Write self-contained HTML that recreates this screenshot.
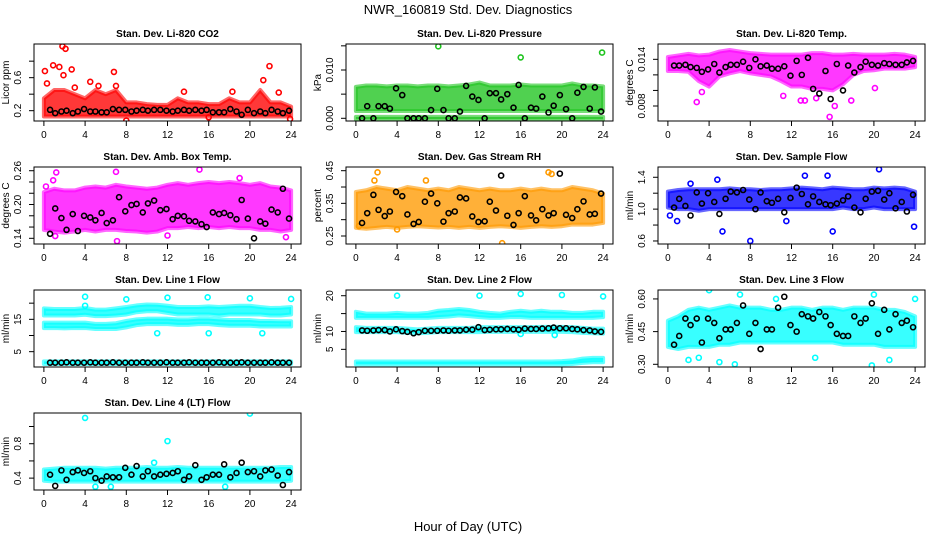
<!DOCTYPE html>
<html><head><meta charset="utf-8"><style>
body{margin:0;background:#fff;}
svg{display:block;font-family:"Liberation Sans",sans-serif;}
</style></head><body>
<svg id="chart" width="936" height="540" viewBox="0 0 936 540" xmlns="http://www.w3.org/2000/svg">
<text x="468" y="14" text-anchor="middle" font-size="13">NWR_160819  Std. Dev. Diagnostics</text>
<text x="468" y="531" text-anchor="middle" font-size="13">Hour of Day (UTC)</text>
</svg>
<script>
const xTicks = [0,4,8,12,16,20,24];
const bandHours = [0,1,2,3,4,5,6,7,8,9,10,11,12,13,14,15,16,17,18,19,20,21,22,23,24];
const blackHours = [0.6,1.1,1.7,2.2,2.8,3.3,3.9,4.5,5.0,5.6,6.1,6.7,7.3,7.9,8.5,9.0,9.6,10.1,10.7,11.3,11.9,12.5,13.0,13.6,14.1,14.7,15.3,15.8,16.4,17.0,17.5,18.1,18.7,19.2,19.8,20.4,21.0,21.5,22.1,22.7,23.2,23.8];

// Panel 1 CO2
const co2Lo = [0.13,0.13,0.13,0.13,0.13,0.13,0.13,0.13,0.13,0.13,0.13,0.13,0.13,0.13,0.13,0.13,0.13,0.13,0.13,0.13,0.13,0.13,0.13,0.13,0.13];
const co2Hi = [0.35,0.45,0.45,0.40,0.35,0.45,0.40,0.45,0.30,0.30,0.28,0.27,0.27,0.35,0.30,0.30,0.28,0.28,0.35,0.30,0.30,0.45,0.30,0.30,0.25];
const co2OutX = [0.1,0.3,0.9,1.5,1.8,2.1,1.9,2.7,3.0,4.5,5.3,6.8,7.0,8.0,13.6,16.0,18.3,21.3,21.9,22.8,23.9];
const co2OutY = [0.68,0.53,0.75,0.73,0.98,0.95,0.63,0.70,0.48,0.55,0.50,0.67,0.50,0.08,0.43,0.12,0.43,0.57,0.74,0.42,0.10];
const co2Black = [0.21,0.17,0.19,0.2,0.17,0.19,0.22,0.19,0.19,0.18,0.18,0.22,0.21,0.21,0.19,0.2,0.21,0.2,0.21,0.21,0.2,0.19,0.2,0.21,0.2,0.21,0.2,0.21,0.18,0.18,0.18,0.22,0.19,0.15,0.21,0.17,0.19,0.17,0.21,0.19,0.17,0.2];
// Panel 2 Pressure
const prLo = [0.0015,0.0015,0.0015,0.0015,0.0015,0.0015,0.0015,0.0015,0.0015,0.0015,0.0015,0.0015,0.0015,0.0015,0.0015,0.0015,0.0015,0.0015,0.0015,0.0015,0.0015,0.0015,0.0015,0.0015,0.0015];
const prHi = [0.0065,0.0068,0.0068,0.0066,0.0068,0.0068,0.0066,0.0068,0.0068,0.0066,0.0068,0.0070,0.0074,0.0068,0.0068,0.0068,0.0070,0.0068,0.0068,0.0068,0.0068,0.0072,0.0068,0.0068,0.0066];
const prZeroLo = [-0.0002,-0.0002,-0.0002,-0.0002,-0.0002,-0.0002,-0.0002,-0.0002,-0.0002,-0.0002,-0.0002,-0.0002,-0.0002,-0.0002,-0.0002,-0.0002,-0.0002,-0.0002,-0.0002,-0.0002,-0.0002,-0.0002,-0.0002,-0.0002,-0.0002];
const prZeroHi = [0.0003,0.0003,0.0003,0.0003,0.0003,0.0003,0.0003,0.0003,0.0003,0.0003,0.0003,0.0003,0.0003,0.0003,0.0003,0.0003,0.0003,0.0003,0.0003,0.0003,0.0003,0.0003,0.0003,0.0003,0.0003];
const prOutX = [8.0,16.0,23.9];
const prOutY = [0.0149,0.0126,0.0136];
const prBlack = [0,0.0025,0,0.0025,0.0025,0.0020,0.0062,0.0048,0,0,0,0,0.0017,0.0061,0.0017,0,0,0.0014,0.0067,0.0045,0.0038,0,0.0052,0.0052,0.0039,0.0050,0.0022,0.0069,0,0.0022,0.0020,0.0045,0.0012,0.0026,0.0048,0.0019,0,0.0053,0.0065,0.0020,0.0064,0.0014];
// Panel 3 Temp
const tmLo = [0.0125,0.0125,0.0124,0.0112,0.0105,0.0118,0.0122,0.0125,0.0122,0.0120,0.0118,0.0112,0.0105,0.0105,0.0102,0.0102,0.0100,0.0108,0.0120,0.0125,0.0126,0.0128,0.0128,0.0128,0.0130];
const tmHi = [0.0143,0.0145,0.0147,0.0145,0.0146,0.0150,0.0152,0.0150,0.0148,0.0147,0.0146,0.0146,0.0146,0.0146,0.0148,0.0148,0.0146,0.0146,0.0147,0.0146,0.0146,0.0146,0.0147,0.0146,0.0143];
const tmOutX = [2.8,15.7,11.2,12.9,13.3,16.2,17.8,20.1,3.3,14.4];
const tmOutY = [0.0085,0.0066,0.0093,0.0087,0.0087,0.0080,0.0087,0.0103,0.0098,0.0090];
const tmBlack = [0.0132,0.0132,0.0133,0.0130,0.0129,0.0124,0.0127,0.0134,0.0123,0.0130,0.0133,0.0133,0.0137,0.0129,0.0140,0.0131,0.0132,0.0128,0.0128,0.0131,0.0119,0.0138,0.0120,0.0142,0.0102,0.0096,0.0125,0.0089,0.0134,0.0100,0.0132,0.0123,0.0130,0.0137,0.0133,0.0132,0.0135,0.0134,0.0133,0.0133,0.0136,0.0138];
// Panel 4 Amb box
const abLo = [0.155,0.152,0.150,0.152,0.155,0.152,0.155,0.155,0.153,0.152,0.150,0.152,0.158,0.158,0.160,0.158,0.160,0.158,0.160,0.158,0.158,0.155,0.155,0.152,0.155];
const abHi = [0.222,0.228,0.225,0.225,0.230,0.232,0.230,0.235,0.232,0.230,0.228,0.230,0.235,0.238,0.235,0.238,0.240,0.238,0.240,0.238,0.235,0.238,0.232,0.230,0.225];
const abOutX = [1.2,0.9,7.0,15.1,19.0,7.1,23.5,1.1,0.2,12.0];
const abOutY = [0.257,0.243,0.258,0.262,0.247,0.135,0.142,0.144,0.232,0.145];
const abBlack = [0.148,0.193,0.176,0.155,0.183,0.153,0.180,0.177,0.172,0.185,0.167,0.172,0.213,0.188,0.199,0.201,0.186,0.202,0.207,0.190,0.192,0.174,0.180,0.179,0.171,0.170,0.165,0.160,0.186,0.183,0.185,0.181,0.174,0.208,0.175,0.140,0.170,0.166,0.191,0.186,0.228,0.175];
// Panel 5 RH
const rhLo = [0.275,0.272,0.275,0.278,0.275,0.278,0.280,0.278,0.276,0.278,0.275,0.278,0.275,0.278,0.280,0.278,0.275,0.278,0.280,0.278,0.280,0.285,0.285,0.285,0.290];
const rhHi = [0.385,0.39,0.40,0.395,0.39,0.40,0.395,0.39,0.395,0.39,0.40,0.395,0.39,0.395,0.39,0.39,0.395,0.39,0.395,0.39,0.39,0.40,0.395,0.39,0.38];
const rhOutX = [2.1,14.2,18.7,19.0,0.3,4.0,1.8,6.8];
const rhOutY = [0.445,0.228,0.445,0.44,0.28,0.27,0.42,0.42];
const rhBlack = [0.29,0.32,0.376,0.33,0.311,0.325,0.385,0.372,0.316,0.287,0.293,0.355,0.38,0.35,0.294,0.32,0.325,0.368,0.365,0.31,0.293,0.295,0.355,0.328,0.435,0.312,0.284,0.32,0.372,0.313,0.298,0.332,0.313,0.32,0.441,0.315,0.305,0.332,0.356,0.316,0.318,0.38];
// Panel 6 Sample flow
const sfLo = [1.02,1.0,1.0,0.98,1.0,1.0,1.0,1.0,1.0,1.0,1.0,1.0,1.0,1.0,1.0,1.0,1.0,1.02,1.0,1.0,1.02,1.0,1.0,1.0,1.0];
const sfHi = [1.22,1.24,1.25,1.25,1.25,1.25,1.26,1.25,1.25,1.24,1.25,1.25,1.26,1.27,1.26,1.25,1.27,1.26,1.25,1.25,1.27,1.26,1.27,1.26,1.22];
const sfOutX = [20.5,8.0,16.0,23.9,5.3,0.2,0.9,11.5,13.3,15.5,4.8,2.2];
const sfOutY = [1.50,0.60,0.72,0.78,0.72,0.92,0.85,0.85,1.42,1.42,1.37,1.32];
const sfBlack = [1.02,1.13,1.04,0.92,1.21,1.07,1.20,1.09,0.94,1.13,1.22,1.21,1.24,1.12,1.00,1.21,1.10,1.08,1.13,0.96,1.14,1.27,1.19,1.06,1.16,1.09,1.06,1.05,1.07,1.11,1.16,1.02,0.96,1.13,1.22,1.23,1.12,1.20,1.01,1.09,0.97,1.18];
// Panel 7 Line 1
const l1aLo = [16.2,16.2,16.2,16.2,16.4,16.0,16.0,16.2,16.5,17.2,17.5,17.5,17.0,16.5,16.5,16.5,16.5,16.2,16.5,16.5,16.5,16.5,16.2,16.2,16.5];
const l1aHi = [18.4,18.2,18.2,18.2,18.5,18.0,18.0,18.4,18.8,19.3,19.6,19.5,19.2,18.8,18.8,18.8,19.0,18.8,19.0,19.2,19.2,18.8,18.5,18.6,18.8];
const l1bLo = [12.3,12.3,12.2,12.3,12.3,12.0,12.0,12.0,12.5,13.2,13.5,13.5,13.5,13.3,13.3,13.5,13.5,13.2,13.0,13.0,13.0,12.8,12.8,12.8,12.8];
const l1bHi = [14.0,14.0,14.0,14.0,14.0,13.6,13.6,13.8,14.5,15.0,15.2,15.2,15.2,15.0,15.0,15.2,15.2,15.0,14.8,14.8,14.8,14.5,14.5,14.4,14.4];
const l1cLo = [1.2,1.2,1.2,1.2,1.2,1.2,1.2,1.2,1.2,1.2,1.2,1.2,1.2,1.2,1.2,1.2,1.2,1.2,1.2,1.2,1.2,1.2,1.2,1.2,1.2];
const l1cHi = [2.0,2.0,2.0,2.0,2.0,2.0,2.0,2.0,2.0,2.0,2.0,2.0,2.0,2.0,2.0,2.0,2.0,2.0,2.0,2.0,2.0,2.0,2.0,2.0,2.0];
const l1OutX = [4.0,8.0,12.0,15.9,20.0,24.0,11.0,16.0,21.2,4.0];
const l1OutY = [22.0,21.2,21.7,21.8,21.5,21.3,10.7,10.7,10.7,19.2];
const l1Black = [1.6,1.6,1.6,1.7,1.6,1.6,1.6,1.7,1.6,1.6,1.6,1.7,1.6,1.6,1.6,1.6,1.7,1.6,1.6,1.6,1.7,1.6,1.6,1.6,1.7,1.6,1.6,1.6,1.6,1.7,1.6,1.6,1.6,1.7,1.6,1.6,1.6,1.6,1.7,1.6,1.6,1.6];
// Panel 8 Line 2
const l2aLo = [13.8,13.8,13.8,13.8,13.8,13.8,13.8,13.8,14.0,14.2,14.5,14.3,14.0,13.8,13.8,14.0,14.0,13.8,13.8,13.8,13.8,13.8,13.8,13.8,14.0];
const l2aHi = [15.5,15.0,15.0,15.0,15.2,15.0,15.0,15.2,15.8,16.0,16.3,16.0,15.5,15.2,15.0,15.5,15.8,15.5,15.8,15.5,15.5,15.2,15.2,15.5,15.5];
const l2bLo = [9.8,9.8,9.8,9.8,9.8,9.6,9.5,9.6,9.8,9.8,9.8,9.8,9.8,9.9,9.9,9.9,9.9,9.9,9.9,9.9,9.9,9.8,9.6,9.5,9.4];
const l2bHi = [11.2,11.0,11.0,11.0,11.0,10.8,10.6,10.8,11.0,11.0,11.0,11.0,11.2,11.2,11.2,11.2,11.2,11.2,11.3,11.3,11.3,11.2,11.0,10.8,10.8];
const l2cLo = [0.8,0.8,0.8,0.8,0.8,0.8,0.8,0.8,0.8,0.8,0.8,0.8,0.8,0.8,0.8,0.8,0.8,0.8,0.8,0.8,0.8,0.9,1.2,1.4,1.4];
const l2cHi = [1.6,1.6,1.6,1.6,1.6,1.6,1.6,1.6,1.6,1.6,1.6,1.6,1.6,1.6,1.6,1.6,1.6,1.6,1.6,1.6,1.7,1.9,2.4,2.6,2.6];
const l2OutX = [4.0,12.0,16.0,20.0,24.0,19.3,16.0];
const l2OutY = [20.0,20.0,20.5,20.2,19.8,9.0,9.3];
const l2Black = [10.3,10.2,10.3,10.4,10.4,10.0,10.6,10.1,9.9,9.5,9.8,10.2,10.2,10.2,10.3,10.2,10.3,10.3,10.5,10.5,11.2,10.4,10.5,10.6,10.6,10.7,10.6,10.5,10.8,10.7,10.7,10.8,10.9,11.1,10.9,10.9,10.7,10.6,10.4,10.3,10.0,9.9];
// Panel 9 Line 3
const l3Lo = [0.38,0.37,0.38,0.38,0.38,0.39,0.39,0.40,0.40,0.40,0.40,0.40,0.40,0.40,0.40,0.40,0.40,0.39,0.39,0.39,0.39,0.38,0.38,0.38,0.38];
const l3Hi = [0.50,0.52,0.55,0.56,0.55,0.56,0.57,0.56,0.56,0.56,0.55,0.55,0.56,0.56,0.55,0.56,0.56,0.55,0.56,0.56,0.56,0.55,0.55,0.54,0.52];
const l3OutX = [4.0,7.0,2.0,5.0,6.5,19.8,20.0,24.0,3.0,14.3,10.5,21.5];
const l3OutY = [0.64,0.62,0.32,0.31,0.30,0.295,0.62,0.60,0.33,0.33,0.60,0.32];
const l3Black = [0.39,0.43,0.51,0.48,0.51,0.40,0.51,0.49,0.42,0.46,0.46,0.49,0.57,0.44,0.49,0.37,0.46,0.46,0.56,0.61,0.48,0.45,0.53,0.52,0.51,0.54,0.52,0.48,0.44,0.43,0.43,0.52,0.49,0.51,0.58,0.44,0.55,0.46,0.53,0.49,0.50,0.47];
// Panel 10 Line 4
const l4Lo = [0.37,0.36,0.36,0.36,0.36,0.36,0.36,0.36,0.36,0.36,0.36,0.36,0.36,0.36,0.36,0.36,0.36,0.36,0.36,0.36,0.36,0.36,0.36,0.36,0.37];
const l4Hi = [0.50,0.51,0.52,0.52,0.52,0.52,0.51,0.52,0.52,0.52,0.53,0.52,0.52,0.53,0.52,0.52,0.52,0.52,0.52,0.52,0.52,0.52,0.52,0.53,0.53];
const l4OutX = [4.0,12.0,20.0,5.0,10.7,6.5,17.6];
const l4OutY = [1.10,0.83,1.15,0.30,0.58,0.30,0.30];
const l4Black = [0.44,0.31,0.49,0.38,0.47,0.49,0.46,0.48,0.4,0.37,0.42,0.41,0.41,0.52,0.44,0.54,0.42,0.48,0.42,0.44,0.45,0.46,0.48,0.38,0.42,0.55,0.38,0.41,0.44,0.44,0.56,0.41,0.46,0.58,0.47,0.48,0.42,0.49,0.5,0.43,0.32,0.47];

const panels = [
 {name:'co2',title:'Stan. Dev. Li-820 CO2',ylab:'Licor ppm',col:0,row:0,ylim:[0.075,1.008],ticks:[0.2,0.4,0.6,0.8],labels:['0.2','','0.6',''],color:'#ff0000',bands:[[co2Lo,co2Hi]],ox:co2OutX,oy:co2OutY,black:co2Black},
 {name:'pressure',title:'Stan. Dev. Li-820 Pressure',ylab:'kPa',col:1,row:0,ylim:[-0.00056,0.01538],ticks:[0,0.005,0.010,0.015],labels:['0.000','','0.010',''],color:'#1fc41f',bands:[[prLo,prHi],[prZeroLo,prZeroHi]],ox:prOutX,oy:prOutY,black:prBlack},
 {name:'temp',title:'Stan. Dev. Li-820 Temp.',ylab:'degrees C',col:2,row:0,ylim:[0.00607,0.01597],ticks:[0.008,0.010,0.012,0.014],labels:['0.008','','','0.014'],color:'#ff00ff',bands:[[tmLo,tmHi]],ox:tmOutX,oy:tmOutY,black:tmBlack},
 {name:'amb-box-temp',title:'Stan. Dev. Amb. Box Temp.',ylab:'degrees C',col:0,row:1,ylim:[0.1299,0.2666],ticks:[0.14,0.16,0.18,0.20,0.22,0.24,0.26],labels:['0.14','','','0.20','','','0.26'],color:'#ff00ff',bands:[[abLo,abHi]],ox:abOutX,oy:abOutY,black:abBlack},
 {name:'gas-rh',title:'Stan. Dev. Gas Stream RH',ylab:'percent',col:1,row:1,ylim:[0.2255,0.4613],ticks:[0.25,0.30,0.35,0.40,0.45],labels:['0.25','','0.35','','0.45'],color:'#ff9a00',bands:[[rhLo,rhHi]],ox:rhOutX,oy:rhOutY,black:rhBlack},
 {name:'sample-flow',title:'Stan. Dev. Sample Flow',ylab:'ml/min',col:2,row:1,ylim:[0.562,1.529],ticks:[0.6,0.8,1.0,1.2,1.4],labels:['0.6','','1.0','','1.4'],color:'#0000ff',bands:[[sfLo,sfHi]],ox:sfOutX,oy:sfOutY,black:sfBlack},
 {name:'line1-flow',title:'Stan. Dev. Line 1 Flow',ylab:'ml/min',col:0,row:2,ylim:[0.26,24.07],ticks:[5,10,15,20],labels:['5','','15',''],color:'#00ffff',bands:[[l1aLo,l1aHi],[l1bLo,l1bHi],[l1cLo,l1cHi]],ox:l1OutX,oy:l1OutY,black:l1Black},
 {name:'line2-flow',title:'Stan. Dev. Line 2 Flow',ylab:'ml/min',col:1,row:2,ylim:[0.06,21.6],ticks:[5,10,15,20],labels:['5','10','','20'],color:'#00ffff',bands:[[l2aLo,l2aHi],[l2bLo,l2bHi],[l2cLo,l2cHi]],ox:l2OutX,oy:l2OutY,black:l2Black},
 {name:'line3-flow',title:'Stan. Dev. Line 3 Flow',ylab:'ml/min',col:2,row:2,ylim:[0.2876,0.641],ticks:[0.30,0.45,0.60],labels:['0.30','0.45','0.60'],color:'#00ffff',bands:[[l3Lo,l3Hi]],ox:l3OutX,oy:l3OutY,black:l3Black},
 {name:'line4-flow',title:'Stan. Dev. Line 4 (LT) Flow',ylab:'ml/min',col:0,row:3,ylim:[0.262,1.157],ticks:[0.4,0.6,0.8,1.0],labels:['0.4','','0.8',''],color:'#00ffff',bands:[[l4Lo,l4Hi]],ox:l4OutX,oy:l4OutY,black:l4Black}
];

const NS='http://www.w3.org/2000/svg';
const svg=document.getElementById('chart');
const colLeft=[34,346,658], rowTop=[44,167,290,413], PW=267, PH=77;
function mk(tag,attrs,parent){const e=document.createElementNS(NS,tag);for(const k in attrs)e.setAttribute(k,attrs[k]);parent.appendChild(e);return e;}

panels.forEach(p=>{
  const L=colLeft[p.col], T=rowTop[p.row], B=T+PH, R=L+PW;
  const g=mk('g',{},svg);
  
  
  const xs=v=>L+(v+0.96)/25.92*PW;
  const ys=v=>B-(v-p.ylim[0])/(p.ylim[1]-p.ylim[0])*PH;
  const clip=mk('clipPath',{id:'clip-'+p.name},g);
  mk('rect',{x:L,y:T,width:PW,height:PH},clip);
  const plot=mk('g',{'clip-path':'url(#clip-'+p.name+')'},g);
  
  
  p.bands.forEach((b,i)=>{
    const lo=b[0],hi=b[1];
    let pts=bandHours.map((h,j)=>xs(h)+','+ys(hi[j]));
    pts=pts.concat(bandHours.slice().reverse().map((h,j)=>xs(h)+','+ys(lo[lo.length-1-j])));
    const poly=mk('polygon',{points:pts.join(' '),fill:p.color,'fill-opacity':0.78,stroke:p.color,'stroke-opacity':0.6,'stroke-width':4,'stroke-linejoin':'round'},plot);
    
    
  });
  p.ox.forEach((x,i)=>{
    const c=mk('circle',{cx:xs(x),cy:ys(p.oy[i]),r:2.5,fill:'none',stroke:p.color,'stroke-width':1.6},plot);
    
    
  });
  blackHours.forEach((x,i)=>{
    const c=mk('circle',{cx:xs(x),cy:ys(p.black[i]),r:2.5,fill:'none',stroke:'#000','stroke-width':1.6},plot);
    
    
  });
  const box=mk('rect',{x:L,y:T,width:PW,height:PH,fill:'none',stroke:'#000','stroke-width':1},g);
  
  
  xTicks.forEach(t=>{
    mk('line',{x1:xs(t),x2:xs(t),y1:B,y2:B+5,stroke:'#000'},g);
    const tx=mk('text',{x:xs(t),y:B+17,'text-anchor':'middle','font-size':10},g);
    tx.textContent=t;
    
    
  });
  p.ticks.forEach((t,i)=>{
    mk('line',{x1:L-5,x2:L,y1:ys(t),y2:ys(t),stroke:'#000'},g);
    if(p.labels[i]){
      const ty=mk('text',{x:0,y:0,'text-anchor':'middle','font-size':10,transform:'translate('+(L-13)+','+ys(t)+') rotate(-90)'},g);
      ty.textContent=p.labels[i];
      
      
    }
  });
  const yl=mk('text',{x:0,y:0,'text-anchor':'middle','font-size':10,transform:'translate('+(L-25)+','+(T+PH/2)+') rotate(-90)'},g);
  yl.textContent=p.ylab;
  
  
  const ti=mk('text',{x:L+PW/2,y:T-7,'text-anchor':'middle','font-size':10,'font-weight':'bold'},g);
  ti.textContent=p.title;
  
  
});
</script>
</body></html>
